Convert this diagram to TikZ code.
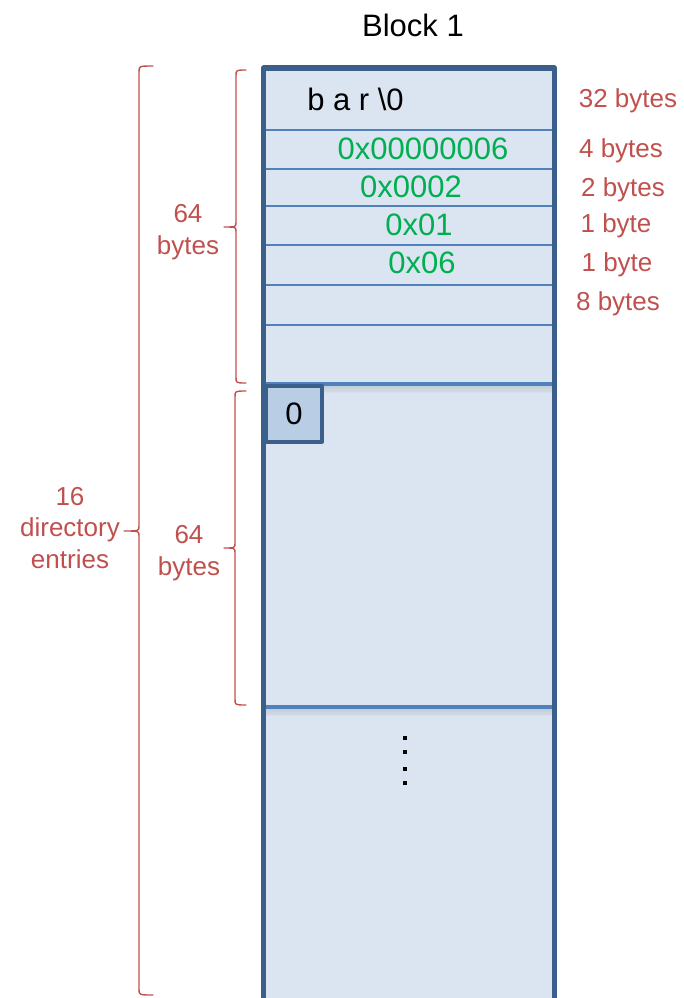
\documentclass[tikz,border=0pt]{standalone}
\usepackage{fontspec}
\setmainfont{Liberation Sans}
\definecolor{blockfill}{HTML}{DBE5F1}
\definecolor{blockedge}{HTML}{3A5F8B}
\definecolor{rowline}{HTML}{4F81BD}
\definecolor{cellfill}{HTML}{B9CDE5}
\definecolor{valgreen}{HTML}{00B050}
\definecolor{notered}{HTML}{C0504D}
% curly brace opening to the right: end x, spine x, tip x, top y, bottom y, middle y
\newcommand\dirbrace[6]{%
  \draw[bracepath] (#1,#4) .. controls (#2,#4) .. (#2,#4+6) -- (#2,#6-5)
    .. controls (#2,#6) .. (#3,#6) .. controls (#2,#6) .. (#2,#6+5)
    -- (#2,#5-6) .. controls (#2,#5) .. (#1,#5);}
\tikzset{
  bigtext/.style={font=\fontsize{31}{36}\selectfont, inner sep=0pt},
  valtext/.style={bigtext, text=valgreen},
  notetext/.style={font=\fontsize{26}{31.5}\selectfont, text=notered, align=center, inner sep=0pt},
  rowsep/.style={draw=rowline, line width=1.5pt},
  entrysep/.style={draw=rowline, line width=4.5pt},
  bracepath/.style={draw=notered, line width=1.4pt, line cap=round, line join=round},
  cellbox/.style={draw=blockedge, fill=cellfill, line width=4pt, line join=round,
    minimum width=56pt, minimum height=56pt, inner sep=0pt, font=\fontsize{31}{36}\selectfont}
}
\begin{document}
\begin{tikzpicture}[x=1pt,y=-1pt]
\useasboundingbox (0,0) rectangle (683,998);
\clip (0,0) rectangle (683,998);

% title
\node[bigtext] (title) at (413,25) {Block 1};

% directory block
\fill[blockfill] (263.5,68) rectangle (554.5,1010);

% field separators of the first entry
\foreach \yy in {130,169,206,245,285,325}
  \draw[rowsep] (265,\yy) -- (553,\yy);

% entry separators with soft shadow
\foreach \yy in {384,707}{
  \foreach \k/\o in {1/0.05,2/0.05,3/0.04,4/0.04,5/0.03,6/0.03,7/0.02}
    \draw[black, opacity=\o, line width=2pt] (266,\yy+1+\k) -- (556,\yy+1+\k);
  \draw[entrysep] (264,\yy) -- (556,\yy);
}

\draw[blockedge, line width=5pt, line join=round] (263.5,1010) -- (263.5,68) -- (554.5,68) -- (554.5,1010);

% first entry contents
\node[bigtext] (name) at (355.5,99) {b a r \textbackslash 0};
\node[valtext] (inode) at (423,149) {0x00000006};
\node[valtext] (reclen) at (411,187) {0x0002};
\node[valtext] (namelen) at (419,225) {0x01};
\node[valtext] (ftype) at (422,263) {0x06};

% second entry, first byte
\node[cellbox] (firstbyte) at (294,413.5) {0};

% continuation dots
\foreach \yy in {738,752,769,783}
  \fill[black] (403.3,\yy-1.7) rectangle (406.7,\yy+1.7);

% field sizes
\node[notetext] (s32) at (628,101) {32 bytes};
\node[notetext] (s4) at (621,151) {4 bytes};
\node[notetext] (s2) at (623,190) {2 bytes};
\node[notetext] (s1a) at (616,226) {1 byte};
\node[notetext] (s1b) at (617,265) {1 byte};
\node[notetext] (s8) at (618,304) {8 bytes};

% entry sizes
\node[notetext] (e1) at (188,232) {64\\bytes};
\node[notetext] (e2) at (189,553) {64\\bytes};
\node[notetext] (count) at (70,528) {16\\directory\\entries};

% braces
\dirbrace{246}{236}{224}{70}{383}{227}
\dirbrace{246}{235}{224}{391}{705}{548}
\dirbrace{153}{139}{124}{66}{995}{531}
\end{tikzpicture}
\end{document}
